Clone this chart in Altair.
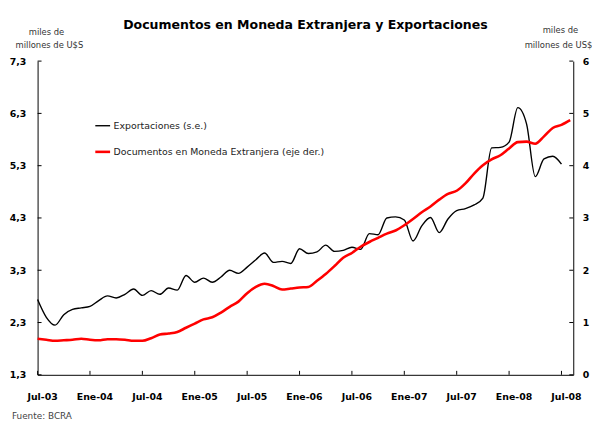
import altair as alt
import pandas as pd

# ---------------- data ----------------
x_labels = ["Jul-03", "Ene-04", "Jul-04", "Ene-05", "Jul-05", "Ene-06",
            "Jul-06", "Ene-07", "Jul-07", "Ene-08", "Jul-08"]
x_tick_months = [0, 6, 12, 18, 24, 30, 36, 42, 48, 54, 60]
left_ticks = [1.3, 2.3, 3.3, 4.3, 5.3, 6.3, 7.3]
right_ticks = [0, 1, 2, 3, 4, 5, 6]

# Exportaciones (s.e.), left axis, Jul-03 .. Jul-08 (monthly)
exportaciones = [
    2.74, 2.40, 2.25, 2.45, 2.55, 2.58, 2.61, 2.72, 2.81, 2.77,
    2.84, 2.94, 2.82, 2.91, 2.84, 2.96, 2.92, 3.20, 3.07, 3.15,
    3.07, 3.17, 3.30, 3.24, 3.36, 3.50, 3.63, 3.45, 3.47, 3.43,
    3.71, 3.62, 3.65, 3.78, 3.66, 3.68, 3.74, 3.70, 4.00, 3.98,
    4.30, 4.32, 4.26, 3.86, 4.15, 4.31, 4.02, 4.28, 4.44, 4.48,
    4.55, 4.68, 5.64, 5.65, 5.75, 6.41, 6.10, 5.09, 5.43, 5.48,
    5.33,
]

# Documentos en Moneda Extranjera, right axis, Jul-03 .. Aug-08 (monthly)
documentos = [
    0.69, 0.67, 0.65, 0.66, 0.67, 0.69, 0.67, 0.66, 0.68, 0.68,
    0.67, 0.65, 0.65, 0.70, 0.77, 0.79, 0.82, 0.90, 0.98, 1.06,
    1.10, 1.19, 1.30, 1.40, 1.56, 1.68, 1.74, 1.70, 1.63, 1.65,
    1.67, 1.68, 1.80, 1.93, 2.08, 2.24, 2.33, 2.45, 2.54, 2.62,
    2.70, 2.76, 2.86, 2.98, 3.11, 3.22, 3.35, 3.46, 3.52, 3.66,
    3.85, 4.01, 4.12, 4.20, 4.33, 4.45, 4.46, 4.42, 4.56, 4.72,
    4.78, 4.87,
]

SER_EXP = "Exportaciones (s.e.)"
SER_DOC = "Documentos en Moneda Extranjera (eje der.)"

W, H = 543, 318
FONT = "DejaVu Sans"

df_exp = pd.DataFrame({"m": list(range(len(exportaciones))), "v": exportaciones, "serie": SER_EXP})
df_doc = pd.DataFrame({"m": list(range(len(documentos))), "v": documentos, "serie": SER_DOC})
df_xt = pd.DataFrame({"m": x_tick_months})
df_lt = pd.DataFrame({"v": left_ticks})
df_rt = pd.DataFrame({"v": right_ticks})

label_arr = "[" + ",".join("'" + s + "'" for s in x_labels) + "]"

xscale = alt.Scale(domain=[0, 61.35], nice=False, zero=False)
yl_scale = alt.Scale(domain=[1.3, 7.3], nice=False, zero=False)
yr_scale = alt.Scale(domain=[0, 6], nice=False, zero=False)

x_axis = alt.Axis(values=x_tick_months, labelExpr=label_arr + "[round(datum.value/6)]",
                  ticks=False, tickSize=0, grid=False, title=None, domainColor="black",
                  labelFont=FONT, labelFontWeight="bold", labelFontSize=9.5, labelColor="black",
                  labelPadding=17, labelOffset=4.5, labelFlush=False, labelOverlap=False)
yl_axis = alt.Axis(values=left_ticks, labelExpr="replace(format(datum.value, '.1f'), '.', ',')",
                   ticks=False, tickSize=0, grid=False, title=None, domainColor="black",
                   labelFont=FONT, labelFontWeight="bold", labelFontSize=9.5, labelColor="black",
                   labelPadding=12, labelFlush=False, labelOverlap=False)
yr_axis = alt.Axis(values=right_ticks, orient="right", format="d",
                   ticks=False, tickSize=0, grid=False, title=None, domainColor="black",
                   labelFont=FONT, labelFontWeight="bold", labelFontSize=9.5, labelColor="black",
                   labelPadding=9, labelFlush=False, labelOverlap=False)

legend = alt.Legend(orient="none", legendX=57, legendY=57, title=None, symbolType="stroke",
                    symbolSize=225, labelFont=FONT, labelFontSize=9.5, labelColor="#222222",
                    rowPadding=13, labelOffset=2, padding=0, labelLimit=400)

color = alt.Color("serie:N", scale=alt.Scale(domain=[SER_EXP, SER_DOC], range=["#000000", "#ff0000"]),
                  legend=legend)
sw = alt.StrokeWidth("serie:N", scale=alt.Scale(domain=[SER_EXP, SER_DOC], range=[1.4, 2.6]),
                     legend=legend)

X = alt.X("m:Q", scale=xscale, axis=x_axis)

black = alt.Chart(df_exp).mark_line(interpolate="monotone").encode(
    x=X, y=alt.Y("v:Q", scale=yl_scale, axis=yl_axis), color=color, strokeWidth=sw)
lticks = alt.Chart(df_lt).mark_rule(color="black", strokeWidth=1).encode(
    y=alt.Y("v:Q", scale=yl_scale, axis=yl_axis), x=alt.value(0), x2=alt.value(4))
xticks = alt.Chart(df_xt).mark_rule(color="black", strokeWidth=1).encode(
    x=X, y=alt.value(H), y2=alt.value(H - 4))

red = alt.Chart(df_doc).mark_line(interpolate="monotone").encode(
    x=X, y=alt.Y("v:Q", scale=yr_scale, axis=yr_axis), color=color, strokeWidth=sw)
rticks = alt.Chart(df_rt).mark_rule(color="black", strokeWidth=1).encode(
    y=alt.Y("v:Q", scale=yr_scale, axis=yr_axis), x=alt.value(W - 4), x2=alt.value(W))

one = pd.DataFrame({"k": [0]})


def note(text, x, y, size=8.5, weight="normal", align="center", color="#333333"):
    return alt.Chart(one).mark_text(text=text, font=FONT, fontSize=size, fontWeight=weight,
                                    align=align, baseline="middle", color=color).encode(
        x=alt.value(x), y=alt.value(y))


notes = [
    note("Documentos en Moneda Extranjera y Exportaciones", 271.5, -37, size=12.7, weight="bold",
         color="#000000"),
    note("miles de", 9, -29),
    note("millones de U$S", 12, -16),
    note("miles de", 530, -31),
    note("millones de US$", 528, -16),
    note("Fuente: BCRA", -26, 360, size=9, align="left", color="#444444"),
]

chart = alt.layer(
    alt.layer(black, lticks, xticks),
    alt.layer(red, rticks),
    *notes,
).resolve_scale(y="independent").properties(
    width=W, height=H,
    autosize=alt.AutoSizeParams(type="none"),
    padding={"left": 30, "top": 51, "right": 19, "bottom": 45},
).configure_view(stroke=None).configure_axis(domainWidth=1)

chart.save("out.html", embed_options={"renderer": "svg", "actions": False})
